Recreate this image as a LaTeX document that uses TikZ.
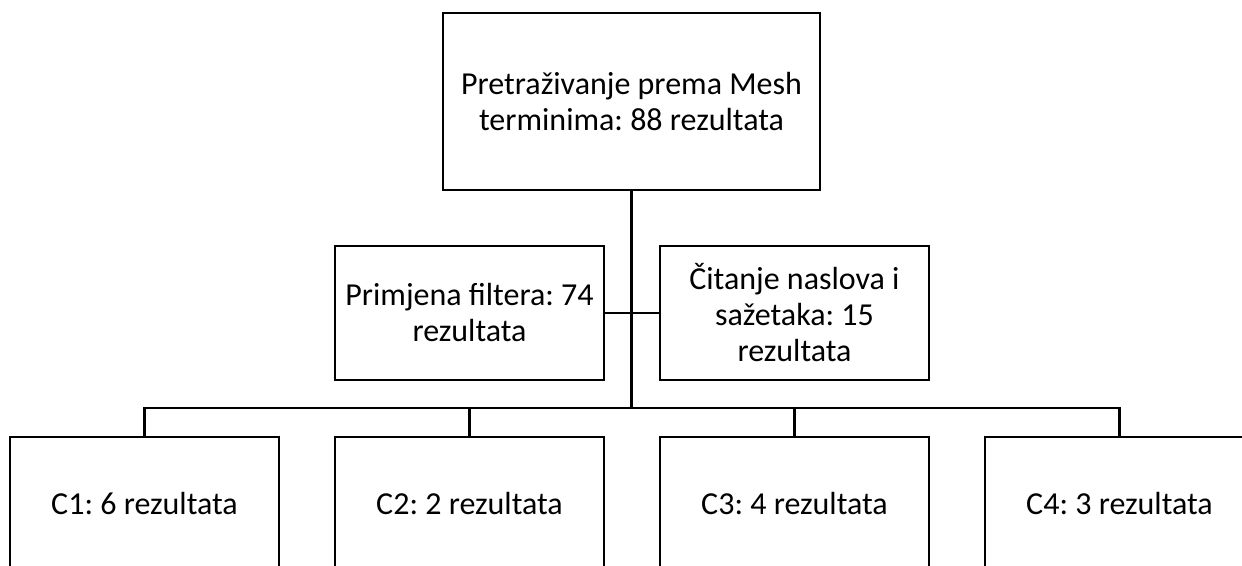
\documentclass[tikz,border=0pt]{standalone}
\usepackage{fontspec}
\setmainfont{Carlito}
\usepackage{tikz}
\usetikzlibrary{positioning, calc}
\frenchspacing

\begin{document}
\begin{tikzpicture}[x=0.5pt, y=-0.5pt, line width=1.3pt,
    box/.style={draw, rectangle, align=center, inner sep=0pt,
      font=\fontsize{16pt}{18pt}\selectfont, minimum width=134.5pt, minimum height=67pt}]
      \useasboundingbox (0,0) rectangle (1242,566);

      \node[box, minimum width=188.5pt, minimum height=88.5pt] (search) at (631.5,101.5)
        {Pretraživanje prema Mesh\\terminima: 88 rezultata};

      \node[box] (filter) at (469.5,313) {Primjena filtera: 74\\rezultata};
      \node[box] (reading) at (794.5,313) {Čitanje naslova i\\sažetaka: 15\\rezultata};

      \node[box] (c1) at (144.5,504) {C1: 6 rezultata};
      \node[box] (c2) at (469.5,504) {C2: 2 rezultata};
      \node[box] (c3) at (794.5,504) {C3: 4 rezultata};
      \node[box] (c4) at (1119.5,504) {C4: 3 rezultata};

      \coordinate (bus) at (search.south |- 0,408);

      \draw (search.south) -- (bus);
      \draw (filter.east) -- (reading.west);
      \draw (c1.north) |- (bus) -| (c4.north);
      \draw (c2.north) -- (c2.north |- bus);
      \draw (c3.north) -- (c3.north |- bus);

    \end{tikzpicture}
\end{document}
